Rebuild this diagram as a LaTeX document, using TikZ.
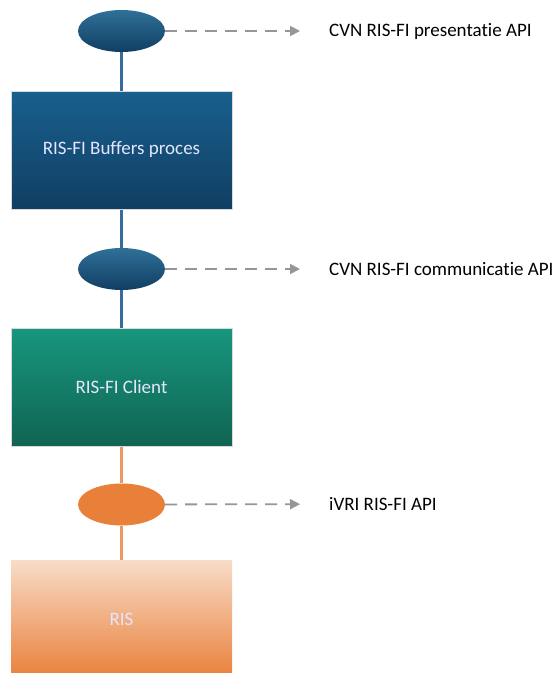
\documentclass[tikz,border=0pt]{standalone}
\usepackage{fontspec}
\setmainfont{Carlito}[RawFeature=-liga]
\usetikzlibrary{arrows.meta,shapes.geometric,backgrounds}
\definecolor{bluetop}{RGB}{24,96,142}
\definecolor{bluebot}{RGB}{17,62,98}
\definecolor{greentop}{RGB}{24,150,126}
\definecolor{greenbot}{RGB}{15,100,82}
\definecolor{orangetop}{RGB}{248,220,200}
\definecolor{orangebot}{RGB}{233,128,58}
\definecolor{orangeapi}{RGB}{233,128,58}
\definecolor{blueline}{RGB}{52,108,158}
\definecolor{orangeline}{RGB}{240,150,100}
\definecolor{apigray}{RGB}{150,150,150}

\begin{document}
\begin{tikzpicture}[x=1pt, y=-1pt,
    proc/.style={rectangle, draw=white!85!black, line width=0.4pt, minimum width=221pt, minimum height=118pt, font=\fontsize{19}{22}\selectfont, text=white!90!blue},
    api/.style={ellipse, minimum width=87pt, minimum height=42pt, inner sep=0pt},
    link/.style={line width=2.5pt},
    expose/.style={-{Triangle[length=10pt,width=10pt]}, draw=apigray, line width=1.8pt, dash pattern=on 12pt off 8pt, shorten >=29pt},
    apilabel/.style={anchor=west, inner sep=0pt, font=\fontsize{19}{22}\selectfont}
]
\useasboundingbox (0,0) rectangle (555,673);
%% ============================================================
%% BUFFERS PROCES with presentatie API
%% ============================================================
\node[api, top color=bluetop!90!white, bottom color=bluebot] (presapi) at (121.5,31) {};
\node[proc, top color=bluetop, bottom color=bluebot] (buffers) at (121.5,150) {RIS-FI Buffers proces};
\node[apilabel] (preslbl) at (329,31) {CVN RIS-FI presentatie API};
%% ============================================================
%% CLIENT with communicatie API
%% ============================================================
\node[api, top color=bluetop!90!white, bottom color=bluebot] (commapi) at (121.5,269) {};
\node[proc, top color=greentop, bottom color=greenbot] (client) at (121.5,387) {RIS-FI Client};
\node[apilabel] (commlbl) at (329,269) {CVN RIS-FI communicatie API};
%% ============================================================
%% RIS with iVRI API
%% ============================================================
\node[api, fill=orangeapi] (ivriapi) at (121.5,504.5) {};
\node[proc, top color=orangetop, bottom color=orangebot, draw=none] (ris) at (121.5,619) {RIS};
\node[apilabel] (ivrilbl) at (329,504) {iVRI RIS-FI API};
%% connectors
\begin{pgfonlayer}{background}
\draw[link, color=blueline] (presapi) -- (buffers);
\draw[link, color=blueline] (buffers) -- (commapi);
\draw[link, color=blueline] (commapi) -- (client);
\draw[link, color=orangeline] (client) -- (ivriapi);
\draw[link, color=orangeline] (ivriapi) -- (ris);
\draw[expose] (presapi) -- (preslbl);
\draw[expose] (commapi) -- (commlbl);
\draw[expose] (ivriapi) -- (ivrilbl);
\end{pgfonlayer}
\end{tikzpicture}
\end{document}
